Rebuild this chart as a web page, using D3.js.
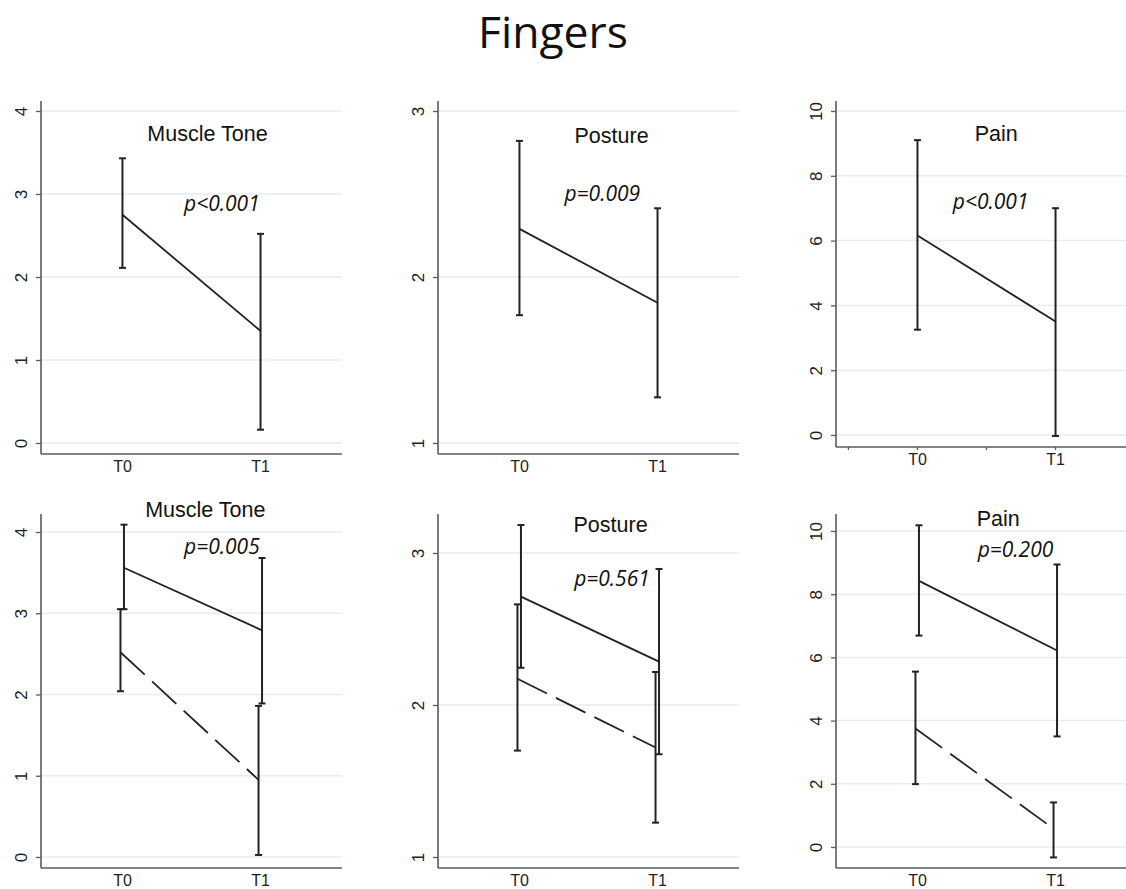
<!DOCTYPE html>
<html>
<head>
<meta charset="utf-8">
<script src="https://cdn.jsdelivr.net/npm/d3@7"></script>
<style>
  body { margin: 0; background: #fff; }
  svg { display: block; }
</style>
</head>
<body>
<div id="chart"></div>
<script>
// time points on the x axis
const timepoints = ["T0", "T1"]

// y tick values per measure
const toneTicks = [0, 1, 2, 3, 4]
const postureTicks = [1, 2, 3]
const painTicks = [0, 2, 4, 6, 8, 10]

// top row (all patients)
const toneTopMean = [2.75, 1.35]
const toneTopLo = [2.11, 0.16]
const toneTopHi = [3.43, 2.52]

const postureTopMean = [2.29, 1.845]
const postureTopLo = [1.77, 1.275]
const postureTopHi = [2.82, 2.414]

const painTopMean = [6.16, 3.5]
const painTopLo = [3.25, -0.03]
const painTopHi = [9.1, 7.0]

// bottom row, group A (solid) and group B (dashed)
const toneSolidMean = [3.56, 2.79]
const toneSolidLo = [3.05, 1.89]
const toneSolidHi = [4.09, 3.68]
const toneDashMean = [2.52, 0.95]
const toneDashLo = [2.04, 0.025]
const toneDashHi = [3.05, 1.86]

const postureSolidMean = [2.713, 2.285]
const postureSolidLo = [2.245, 1.676]
const postureSolidHi = [3.184, 2.895]
const postureDashMean = [2.173, 1.72]
const postureDashLo = [1.70, 1.226]
const postureDashHi = [2.662, 2.217]

const painSolidMean = [8.42, 6.22]
const painSolidLo = [6.69, 3.50]
const painSolidHi = [10.18, 8.94]
const painDashMean = [3.75, 0.58]
const painDashLo = [1.99, -0.33]
const painDashHi = [5.55, 1.41]

const titles = ["Muscle Tone", "Posture", "Pain", "Muscle Tone", "Posture", "Pain"]
const pLabels = ["p<0.001", "p=0.009", "p<0.001", "p=0.005", "p=0.561", "p=0.200"]

function series(mean, lo, hi, dashed){
  return timepoints.map((t, i) => ({t: t, i: i, mean: mean[i], lo: lo[i], hi: hi[i], dashed: dashed}))
}

const panels = [
  {ticks: toneTicks, series: [series(toneTopMean, toneTopLo, toneTopHi, false)]},
  {ticks: postureTicks, series: [series(postureTopMean, postureTopLo, postureTopHi, false)]},
  {ticks: painTicks, series: [series(painTopMean, painTopLo, painTopHi, false)]},
  {ticks: toneTicks, series: [series(toneSolidMean, toneSolidLo, toneSolidHi, false), series(toneDashMean, toneDashLo, toneDashHi, true)]},
  {ticks: postureTicks, series: [series(postureSolidMean, postureSolidLo, postureSolidHi, false), series(postureDashMean, postureDashLo, postureDashHi, true)]},
  {ticks: painTicks, series: [series(painSolidMean, painSolidLo, painSolidHi, false), series(painDashMean, painDashLo, painDashHi, true)]},
]

// layout of each panel (pixels) + where the annotations sit (data units)
const LAYOUT = [
  {ax: 41,  top: 101, base: 454, y0: 443, y1: 111, titleAt: [0.616, 3.64], pAt: [0.72, 2.79], xticks: false},
  {ax: 438, top: 101, base: 454, y0: 443, y1: 111, titleAt: [0.667, 2.805], pAt: [0.6, 2.458], xticks: false},
  {ax: 836, top: 101, base: 447, y0: 435, y1: 111, titleAt: [0.57, 9.08], pAt: [0.53, 6.97], xticks: true},
  {ax: 41,  top: 514, base: 868, y0: 857, y1: 532, titleAt: [0.6, 4.18], pAt: [0.72, 3.73], xticks: false},
  {ax: 438, top: 514, base: 868, y0: 857, y1: 553, titleAt: [0.66, 3.14], pAt: [0.67, 2.78], xticks: false},
  {ax: 836, top: 514, base: 868, y0: 847, y1: 531, titleAt: [0.585, 10.16], pAt: [0.71, 9.18], xticks: false},
]

const W = 1126, H = 889
const PANEL_W = 301
const AXIS_COLOR = "#5b5b5b"
const INK = "#222"
const GRID = "#e4eef3"

const svg = d3.select("#chart").append("svg")
  .attr("width", W)
  .attr("height", H)

svg.append("text")
  .attr("x", 553)
  .attr("y", 48)
  .attr("text-anchor", "middle")
  .attr("font-family", "'Open Sans', sans-serif")
  .attr("font-size", 44.5)
  .attr("fill", "#111")
  .text("Fingers")

panels.forEach((p, k) => drawPanel(p, LAYOUT[k], titles[k], pLabels[k]))

function drawPanel(panel, lay, title, pLabel){
  let g = svg.append("g")
  let yDom = [d3.min(panel.ticks), d3.max(panel.ticks)]
  let y = d3.scaleLinear().domain(yDom).range([lay.y0, lay.y1])
  let x = d3.scaleLinear().domain([-0.59, 1.59]).range([lay.ax, lay.ax + PANEL_W])

  // grid lines
  g.selectAll(".grid").data(panel.ticks).enter().append("line")
    .attr("x1", lay.ax).attr("x2", lay.ax + PANEL_W)
    .attr("y1", d => y(d)).attr("y2", d => y(d))
    .attr("stroke", GRID)
    .attr("stroke-width", 1.5)

  // y axis
  let yAxis = g.append("g")
    .attr("transform", "translate(" + lay.ax + ",0)")
    .call(d3.axisLeft(y).tickValues(panel.ticks).tickSize(5).tickSizeOuter(0).tickFormat(d3.format("d")))
  yAxis.select(".domain").remove()
  yAxis.selectAll(".tick line").attr("stroke", AXIS_COLOR).attr("stroke-width", 1.3)
  yAxis.selectAll(".tick text")
    .attr("transform", "rotate(-90)")
    .attr("x", 0).attr("y", -14).attr("dy", 0)
    .attr("text-anchor", "middle")
    .attr("font-family", "'Liberation Sans', Arial, sans-serif")
    .attr("font-size", 17)
    .attr("fill", INK)

  // axis lines
  g.append("line")
    .attr("x1", lay.ax).attr("x2", lay.ax)
    .attr("y1", lay.top).attr("y2", lay.base)
    .attr("stroke", AXIS_COLOR).attr("stroke-width", 1.6)
  g.append("line")
    .attr("x1", lay.ax).attr("x2", lay.ax + PANEL_W)
    .attr("y1", lay.base).attr("y2", lay.base)
    .attr("stroke", AXIS_COLOR).attr("stroke-width", 1.6)

  // x ticks (only visible on one panel)
  if(lay.xticks){
    g.selectAll(".xt").data([-0.5, 0, 0.5, 1]).enter().append("line")
      .attr("x1", d => x(d)).attr("x2", d => x(d))
      .attr("y1", lay.base).attr("y2", lay.base + 3)
      .attr("stroke", AXIS_COLOR).attr("stroke-width", 1.3)
  }

  g.selectAll(".xlab").data(timepoints).enter().append("text")
    .attr("x", (d, i) => x(i))
    .attr("y", lay.base + 17.5)
    .attr("text-anchor", "middle")
    .attr("font-family", "'Liberation Sans', Arial, sans-serif")
    .attr("font-size", 16)
    .attr("fill", INK)
    .text(d => d)

  // series: error bars + mean line
  let two = panel.series.length > 1
  panel.series.forEach(s => {
    let off = two ? (s[0].dashed ? -2 : 1.5) : 0
    let px = d => x(d.i) + off

    g.selectAll(null).data(s).enter().append("line")
      .attr("x1", px).attr("x2", px)
      .attr("y1", d => y(d.lo)).attr("y2", d => y(d.hi))
      .attr("stroke", INK).attr("stroke-width", 2)
    g.selectAll(null).data(s.flatMap(d => [{d: d, v: d.lo}, {d: d, v: d.hi}])).enter().append("line")
      .attr("x1", c => px(c.d) - 3.5).attr("x2", c => px(c.d) + 3.5)
      .attr("y1", c => y(c.v)).attr("y2", c => y(c.v))
      .attr("stroke", INK).attr("stroke-width", 2)

    g.append("path")
      .datum(s)
      .attr("fill", "none")
      .attr("stroke", INK)
      .attr("stroke-width", 1.8)
      .attr("stroke-dasharray", s[0].dashed ? "33,10" : null)
      .attr("d", d3.line().x(px).y(d => y(d.mean)))
  })

  g.append("text")
    .attr("x", x(lay.titleAt[0]))
    .attr("y", y(lay.titleAt[1]))
    .attr("text-anchor", "middle")
    .attr("font-family", "'Liberation Sans', Arial, sans-serif")
    .attr("font-size", 21.5)
    .attr("fill", "#111")
    .text(title)

  g.append("text")
    .attr("x", x(lay.pAt[0]))
    .attr("y", y(lay.pAt[1]))
    .attr("text-anchor", "middle")
    .attr("font-family", "'Open Sans', sans-serif")
    .attr("font-style", "italic")
    .attr("font-size", 21)
    .attr("fill", "#111")
    .text(pLabel)
}
</script>
</body>
</html>
